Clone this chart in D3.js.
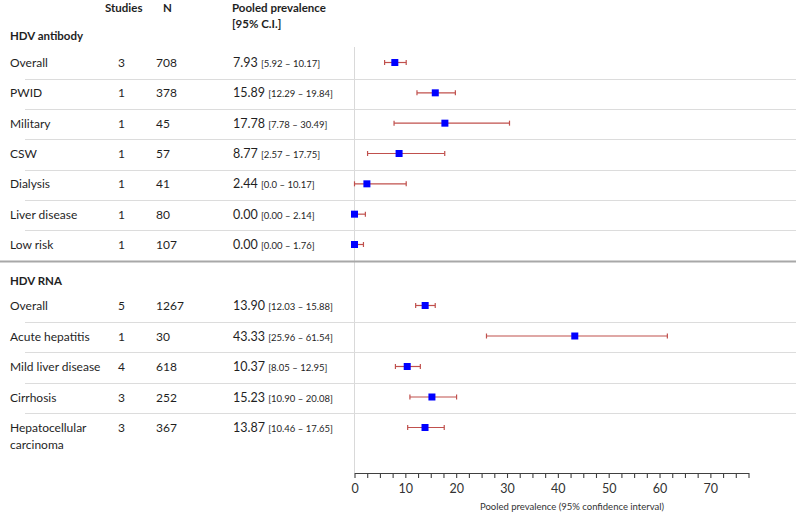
<!DOCTYPE html>
<html><head><meta charset="utf-8">
<script src="https://cdn.jsdelivr.net/npm/d3@7"></script>
<style>
html,body{margin:0;padding:0;background:#fff;}
svg{display:block;font-family:Lato, "Noto Sans", sans-serif;}
</style></head>
<body><svg id="chart" width="796" height="514"></svg>
<script>
// ---- data ----
const groups = ["HDV antibody", "HDV RNA"];
const abLabels = ["Overall","PWID","Military","CSW","Dialysis","Liver disease","Low risk"];
const abStudies = [3,1,1,1,1,1,1];
const abN = [708,378,45,57,41,80,107];
const abEst = [7.93,15.89,17.78,8.77,2.44,0.00,0.00];
const abLow = [5.92,12.29,7.78,2.57,0.0,0.00,0.00];
const abHigh = [10.17,19.84,30.49,17.75,10.17,2.14,1.76];
const abLowText = ["5.92","12.29","7.78","2.57","0.0","0.00","0.00"];
const abHighText = ["10.17","19.84","30.49","17.75","10.17","2.14","1.76"];

const rnaLabels = ["Overall","Acute hepatitis","Mild liver disease","Cirrhosis","Hepatocellular carcinoma"];
const rnaStudies = [5,1,4,3,3];
const rnaN = [1267,30,618,252,367];
const rnaEst = [13.90,43.33,10.37,15.23,13.87];
const rnaLow = [12.03,25.96,8.05,10.90,10.46];
const rnaHigh = [15.88,61.54,12.95,20.08,17.65];
const rnaLowText = ["12.03","25.96","8.05","10.90","10.46"];
const rnaHighText = ["15.88","61.54","12.95","20.08","17.65"];

const tickValues = d3.range(0, 77.6, 2.5);
const tickLabels = ["0","10","20","30","40","50","60","70"];
const headers = ["Studies","N","Pooled prevalence","[95% C.I.]"];
const axisTitle = "Pooled prevalence (95% confidence interval)";

// ---- layout ----
const svg = d3.select("#chart");
const W = 796;
const x = d3.scaleLinear().domain([0, 77.5]).range([354.5, 748.5]);
const abY = d3.scalePoint().domain(d3.range(abLabels.length)).range([62.5, 244.5]);
const rnaY = d3.scalePoint().domain(d3.range(rnaLabels.length)).range([305.5, 427.5]);
const axisY = 473;

const textColor = "#1f1f1f";
const fs = 12;

// headers
const hdr = svg.append("g").attr("font-weight","bold").attr("font-size",11.5).attr("fill",textColor);
hdr.append("text").attr("x",105).attr("y",12).text(headers[0]);
hdr.append("text").attr("x",163).attr("y",12).text(headers[1]);
hdr.append("text").attr("x",232).attr("y",12).text(headers[2]);
hdr.append("text").attr("x",232).attr("y",28).text(headers[3]);
svg.append("text").attr("x",10).attr("y",39.5).attr("font-weight","bold").attr("font-size",11.5).attr("fill",textColor).text(groups[0]);
svg.append("text").attr("x",10).attr("y",284.5).attr("font-weight","bold").attr("font-size",11.5).attr("fill",textColor).text(groups[1]);

// zero line
svg.append("line").attr("x1",x(0)).attr("x2",x(0)).attr("y1",47).attr("y2",axisY)
  .attr("stroke","#d9d9d9").attr("stroke-width",1);

// separators
function separators(yScale, n){
  for(let i=0;i<n-1;i++){
    const yy = Math.round((yScale(i)+yScale(i+1))/2 + 1) + 0.5;
    svg.append("line").attr("x1",25).attr("x2",W).attr("y1",yy).attr("y2",yy)
      .attr("stroke","#dcdcdc").attr("stroke-width",1.2);
  }
}
separators(abY, abLabels.length);
separators(rnaY, rnaLabels.length);
svg.append("line").attr("x1",0).attr("x2",W).attr("y1",261.5).attr("y2",261.5)
  .attr("stroke","#a8a8a8").attr("stroke-width",2);

function rows(labels, studies, ns, est, lo, hi, loT, hiT, yScale){
  const g = svg.append("g");
  labels.forEach((lab,i)=>{
    const yy = yScale(i) + 4.5;
    if(lab === "Hepatocellular carcinoma"){
      const t = g.append("text").attr("x",10).attr("y",yy).attr("font-size",fs).attr("fill",textColor);
      t.append("tspan").attr("x",10).text("Hepatocellular");
      t.append("tspan").attr("x",10).attr("dy",17).text("carcinoma");
    } else {
      g.append("text").attr("x",10).attr("y",yy).attr("font-size",fs).attr("fill",textColor).text(lab);
    }
    g.append("text").attr("x",121.5).attr("y",yy).attr("text-anchor","middle").attr("font-size",fs).attr("fill",textColor).text(studies[i]);
    g.append("text").attr("x",156).attr("y",yy).attr("font-size",fs).attr("fill",textColor).text(ns[i]);
    const t2 = g.append("text").attr("x",233).attr("y",yy).attr("fill",textColor);
    t2.append("tspan").attr("font-size",12.5).text(est[i].toFixed(2) + " ");
    t2.append("tspan").attr("font-size",9.5).text("[" + loT[i] + " \u2013 " + hiT[i] + "]");

    // CI
    const cy = yScale(i);
    const col = "#c0504d";
    g.append("line").attr("x1",x(lo[i])).attr("x2",x(hi[i])).attr("y1",cy).attr("y2",cy).attr("stroke",col).attr("stroke-width",1.2);
    [lo[i],hi[i]].forEach(v=>{
      g.append("line").attr("x1",x(v)).attr("x2",x(v)).attr("y1",cy-2.5).attr("y2",cy+2.5).attr("stroke",col).attr("stroke-width",1.2);
    });
    g.append("rect").attr("x",x(est[i])-3.5).attr("y",cy-3.5).attr("width",7).attr("height",7).attr("fill","#0000ff");
  });
}
rows(abLabels, abStudies, abN, abEst, abLow, abHigh, abLowText, abHighText, abY);
rows(rnaLabels, rnaStudies, rnaN, rnaEst, rnaLow, rnaHigh, rnaLowText, rnaHighText, rnaY);

// axis
const axis = d3.axisBottom(x).tickValues(tickValues).tickSize(5).tickSizeOuter(0)
  .tickFormat(d => (d % 10 === 0 && tickLabels.includes(String(d))) ? String(d) : "");
const ag = svg.append("g").attr("transform",`translate(0,${axisY})`).call(axis);
ag.select(".domain").attr("stroke","#404040").attr("stroke-width",1.2);
ag.selectAll(".tick line").attr("stroke","#404040").attr("stroke-width",1.1);
ag.selectAll(".tick text").attr("font-size",12.5).attr("fill","#333").attr("font-family","Lato, sans-serif").attr("dy","0.95em");
svg.append("text").attr("x",572).attr("y",510).attr("text-anchor","middle").attr("font-size",9.5).attr("fill","#333").text(axisTitle);
</script></body></html>
